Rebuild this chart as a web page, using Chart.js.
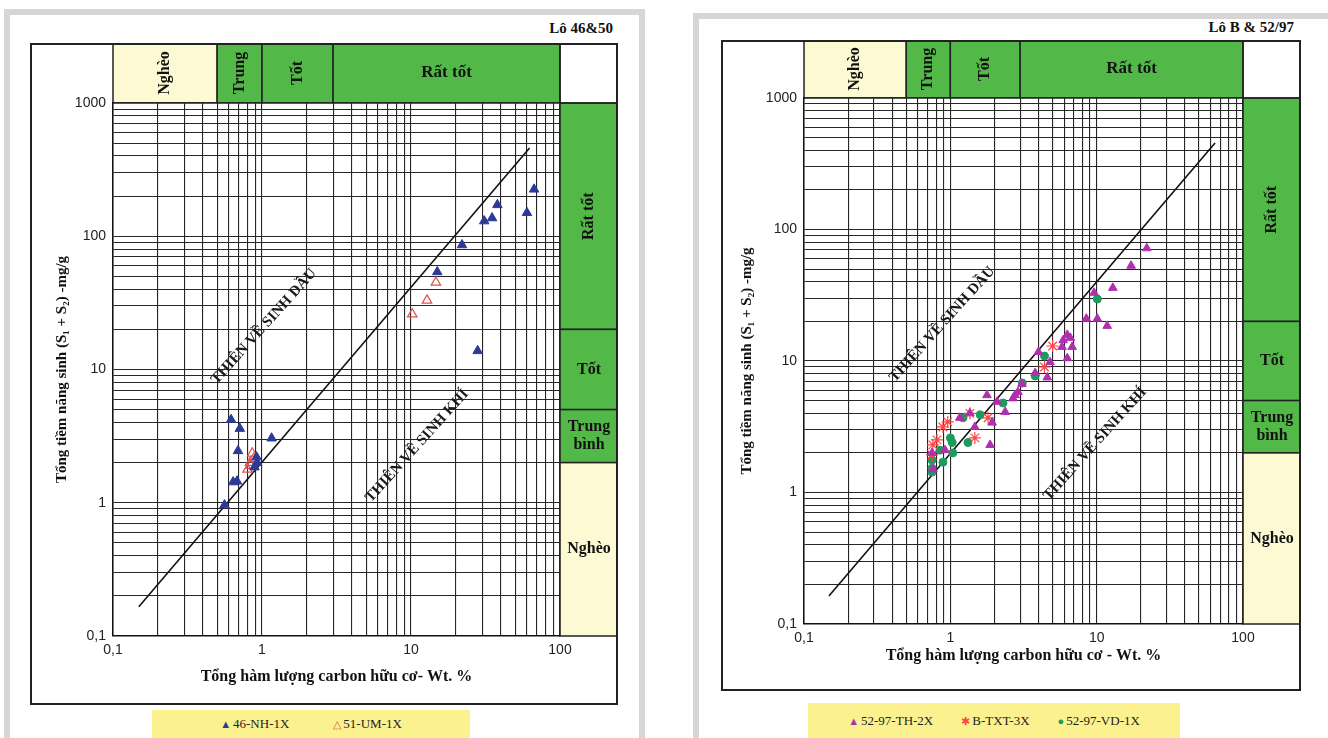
<!DOCTYPE html>
<html lang="vi">
<head>
<meta charset="UTF-8">
<title>Tiềm năng sinh - Lô 46&amp;50 và Lô B &amp; 52/97</title>
<script src="https://cdn.jsdelivr.net/npm/chart.js@4.4.0/dist/chart.umd.min.js"></script>
<style>
  body { margin: 0; width: 1328px; height: 738px; background: #fff; position: relative; overflow: hidden;
         font-family: 'Liberation Serif', 'Times New Roman', serif; }
  .panel { position: absolute; border: 6px solid #d6d6d6; box-sizing: border-box; background: #fff; }
  .lot { position: absolute; font-weight: bold; font-size: 15px; color: #111; }
  canvas { position: absolute; }
  .legend { position: absolute; background: #fbf18e; display: flex; justify-content: center; align-items: center;
            font-size: 13px; color: #222; }
  .legend span.item { margin: 0 22px; white-space: nowrap; }
  .legend b { font-weight: normal; font-size: 11px; margin-right: 2px; }
</style>
</head>
<body>
  <div class="panel" style="left:4px; top:9px; width:641px; height:735px;"></div>
  <div class="panel" style="left:693px; top:13px; width:645px; height:731px;"></div>

  <div class="lot" style="right:715px; top:20px;">Lô 46&amp;50</div>
  <div class="lot" style="right:34px; top:19px;">Lô B &amp; 52/97</div>

  <canvas id="left" width="588" height="662" style="left:30px; top:43px;"></canvas>
  <canvas id="right" width="580" height="651" style="left:721px; top:40px;"></canvas>

  <div class="legend" style="left:152px; top:710px; width:318px; height:28px;">
    <span class="item"><b style="color:#2b3a94">▲</b>46-NH-1X</span>
    <span class="item"><b style="color:#e0504f">△</b>51-UM-1X</span>
  </div>
  <div class="legend" style="left:808px; top:703px; width:372px; height:35px;">
    <span class="item" style="margin:0 14px"><b style="color:#b02fae">▲</b>52-97-TH-2X</span>
    <span class="item" style="margin:0 14px"><b style="color:#ff4444">✱</b>B-TXT-3X</span>
    <span class="item" style="margin:0 14px"><b style="color:#1d9a5e">●</b>52-97-VD-1X</span>
  </div>

<script>
// ---- data: Lô 46&50 ----
const nhX = [0.56, 0.62, 0.71, 0.69, 0.64, 0.68, 1.16, 0.92, 0.93, 0.89, 15, 22, 31, 35, 38, 60, 67, 28];
const nhY = [0.96, 4.2, 3.6, 2.45, 1.43, 1.45, 3.05, 2.2, 2.0, 1.85, 54, 86, 130, 137, 172, 150, 225, 13.8];
const umX = [10.2, 12.8, 14.7, 0.80, 0.83, 0.86, 0.84, 0.88];
const umY = [26, 33, 45, 1.78, 2.0, 2.35, 1.9, 2.15];

// ---- data: Lô B & 52/97 ----
const thX = [22, 17.2, 12.9, 9.6, 8.5, 10.1, 11.8, 6.3, 6.6, 5.9, 6.8, 5.8, 6.3, 4.0, 4.8, 4.6, 3.8,
             3.09, 2.9, 2.77, 2.68, 1.78, 2.09, 2.37, 1.93, 1.87, 1.36, 1.16, 1.47, 0.92, 0.75, 0.76];
const thY = [72, 53, 36, 33, 21, 21, 18.5, 15.8, 15, 14.4, 12.8, 12.8, 10.5, 11.7, 9.8, 7.5, 8.1,
             6.7, 5.8, 5.5, 5.2, 5.5, 4.9, 4.1, 3.4, 2.3, 4.0, 3.7, 3.15, 2.1, 2.0, 1.5];
const txtX = [5.0, 4.4, 0.96, 0.89, 0.81, 0.76, 1.47, 1.36, 1.81, 0.75];
const txtY = [13, 9.0, 3.44, 3.15, 2.51, 2.3, 2.6, 4.0, 3.7, 1.93];
const vdX = [10.1, 4.4, 3.8, 3.1, 2.29, 1.6, 1.22, 1.32, 1.0, 1.03, 1.04, 0.89, 0.85, 0.75, 0.75, 0.75];
const vdY = [29.6, 10.9, 7.7, 6.8, 4.8, 3.9, 3.7, 2.4, 2.6, 2.4, 2.0, 1.7, 2.1, 1.77, 1.53, 1.43];

// dividing line (oil / gas prone)
const leftLineX = [0.149, 62.5];
const leftLineY = [0.166, 459];
const rightLineX = [0.148, 64.4];
const rightLineY = [0.163, 455];

// rating bands
const tocEdges = [0.1, 0.5, 1, 3, 100];
const tocNames = ['Nghèo', 'Trung', 'Tốt', 'Rất tốt'];
const potEdges = [1000, 20, 5, 2, 0.1];
const potNames = ['Rất tốt', 'Tốt', 'Trung\nbình', 'Nghèo'];

// axis ticks
const tickValues = [0.1, 1, 10, 100, 1000];
const tickLabels = ['0,1', '1', '10', '100', '1000'];

const GREEN = '#52b848';
const CREAM = '#fdf9d3';
const SERIF = "'Liberation Serif', 'Times New Roman', serif";
const SANS = "'Liberation Sans', Arial, sans-serif";

function pts(xs, ys) { return xs.map((x, i) => ({x: x, y: ys[i]})); }

function gridValues(lo, hi) {
  const out = [];
  for (let e = Math.log10(lo); e < Math.log10(hi); e++) {
    for (let k = 1; k < 10; k++) out.push(Number((k * Math.pow(10, e)).toPrecision(3)));
  }
  out.push(hi);
  return out;
}

function drawLabel(ctx, text, cx, cy, rot, size) {
  ctx.save();
  ctx.translate(cx, cy);
  ctx.rotate(rot);
  ctx.font = 'bold ' + size + 'px ' + SERIF;
  ctx.textAlign = 'center';
  ctx.textBaseline = 'middle';
  const lines = text.split('\n');
  const lh = size * 1.15;
  lines.forEach((l, i) => ctx.fillText(l, 0, (i - (lines.length - 1) / 2) * lh));
  ctx.restore();
}

const bandPlugin = {
  id: 'bands',
  beforeDraw(chart) {
    const {ctx, chartArea: a, scales: {x, y}, width, height} = chart;
    ctx.save();
    ctx.strokeStyle = '#222';
    ctx.lineWidth = 1.5;
    // top row: TOC rating
    for (let i = 0; i < tocNames.length; i++) {
      const l = x.getPixelForValue(tocEdges[i]), r = x.getPixelForValue(tocEdges[i + 1]);
      ctx.fillStyle = i === 0 ? CREAM : GREEN;
      ctx.fillRect(l, 0, r - l, a.top);
      ctx.strokeRect(l, 0, r - l, a.top);
      ctx.fillStyle = '#111';
      const rot = i < 3 ? -Math.PI / 2 : 0;
      drawLabel(ctx, tocNames[i], (l + r) / 2, a.top / 2, rot, i < 3 ? 16 : 17);
    }
    // right column: potential rating
    for (let i = 0; i < potNames.length; i++) {
      const t = y.getPixelForValue(potEdges[i]), b = y.getPixelForValue(potEdges[i + 1]);
      ctx.fillStyle = i === 3 ? CREAM : GREEN;
      ctx.fillRect(a.right, t, width - a.right, b - t);
      ctx.strokeRect(a.right, t, width - a.right, b - t);
      ctx.fillStyle = '#111';
      drawLabel(ctx, potNames[i], (a.right + width) / 2, (t + b) / 2, i === 0 ? -Math.PI / 2 : 0, 16);
    }
    // corner box
    ctx.strokeRect(a.right, 0, width - a.right, a.top);
    // outer frame
    ctx.lineWidth = 2;
    ctx.strokeRect(1, 1, width - 2, height - 2);
    ctx.restore();
  },
  afterDatasetsDraw(chart, args, opts) {
    const {ctx, scales: {x, y}} = chart;
    ctx.save();
    ctx.fillStyle = '#1a1a1a';
    (opts.notes || []).forEach(n => {
      drawLabel(ctx, n.text, x.getPixelForValue(n.x), y.getPixelForValue(n.y), n.rot * Math.PI / 180, 15);
    });
    ctx.restore();
  }
};

function makeChart(id, datasets, xTitle, xPad, yPad, bottomH, notes) {
  return new Chart(document.getElementById(id), {
    type: 'scatter',
    data: {datasets: datasets},
    plugins: [bandPlugin],
    options: {
      responsive: false,
      animation: false,
      layout: {padding: {top: id === 'left' ? 60 : 58, right: 58, left: 0, bottom: 0}},
      plugins: {
        legend: {display: false},
        tooltip: {enabled: false},
        bands: {notes: notes}
      },
      scales: {
        x: {
          type: 'logarithmic', min: 0.1, max: 100,
          afterBuildTicks: s => { s.ticks = gridValues(0.1, 100).map(v => ({value: v})); },
          afterFit: s => { s.height = bottomH; },
          grid: {color: '#262626', lineWidth: 1.1, drawTicks: false},
          border: {color: '#111', width: 1.5},
          ticks: {
            autoSkip: false, maxRotation: 0, padding: 6, color: '#222',
            font: {family: SANS, size: 14},
            callback: v => { const i = tickValues.indexOf(v); return i < 0 ? '' : tickLabels[i]; }
          },
          title: {display: true, text: xTitle, color: '#111',
                  font: {family: SERIF, size: 16, weight: 'bold'}, padding: {top: 0, bottom: xPad}}
        },
        y: {
          type: 'logarithmic', min: 0.1, max: 1000,
          afterBuildTicks: s => { s.ticks = gridValues(0.1, 1000).map(v => ({value: v})); },
          afterFit: s => { s.width = 83; },
          grid: {color: '#262626', lineWidth: 1.1, drawTicks: false},
          border: {color: '#111', width: 1.5},
          ticks: {
            autoSkip: false, padding: 7, color: '#222',
            font: {family: SANS, size: 14},
            callback: v => { const i = tickValues.indexOf(v); return i < 0 ? '' : tickLabels[i]; }
          },
          title: {display: true, text: 'Tổng tiềm năng sinh (S₁ + S₂) -mg/g', color: '#111',
                  font: {family: SERIF, size: 15, weight: 'bold'}, padding: {top: yPad, bottom: 0}}
        }
      }
    }
  });
}

function lineSet(xs, ys) {
  return {type: 'line', data: pts(xs, ys), borderColor: '#111', borderWidth: 1.6,
          pointRadius: 0, fill: false, order: 5};
}

makeChart('left', [
  lineSet(leftLineX, leftLineY),
  {label: '46-NH-1X', data: pts(nhX, nhY), pointStyle: 'triangle', pointRadius: 5.5,
   backgroundColor: '#2b3a94', borderColor: '#2b3a94', borderWidth: 1},
  {label: '51-UM-1X', data: pts(umX, umY), pointStyle: 'triangle', pointRadius: 5.5,
   backgroundColor: 'rgba(255,255,255,0)', borderColor: '#e0504f', borderWidth: 1.2}
], 'Tổng hàm lượng carbon hữu cơ- Wt. %', 19, 23, 69, [
  {text: 'THIÊN VỀ SINH DẦU', x: 1.03, y: 21, rot: -48},
  {text: 'THIÊN VỀ SINH KHÍ', x: 11, y: 2.67, rot: -48}
]);

makeChart('right', [
  lineSet(rightLineX, rightLineY),
  {label: '52-97-TH-2X', data: pts(thX, thY), pointStyle: 'triangle', pointRadius: 5,
   backgroundColor: '#b02fae', borderColor: '#b02fae', borderWidth: 1},
  {label: 'B-TXT-3X', data: pts(txtX, txtY), pointStyle: 'star', pointRadius: 6,
   backgroundColor: '#ff4444', borderColor: '#ff4444', borderWidth: 1.2},
  {label: '52-97-VD-1X', data: pts(vdX, vdY), pointStyle: 'circle', pointRadius: 4,
   backgroundColor: '#1d9a5e', borderColor: '#1d9a5e', borderWidth: 1}
], 'Tổng hàm lượng carbon hữu cơ - Wt. %', 26, 17, 67, [
  {text: 'THIÊN VỀ SINH DẦU', x: 0.88, y: 19, rot: -48},
  {text: 'THIÊN VỀ SINH KHÍ', x: 9.75, y: 2.34, rot: -48}
]);
</script>
</body>
</html>
